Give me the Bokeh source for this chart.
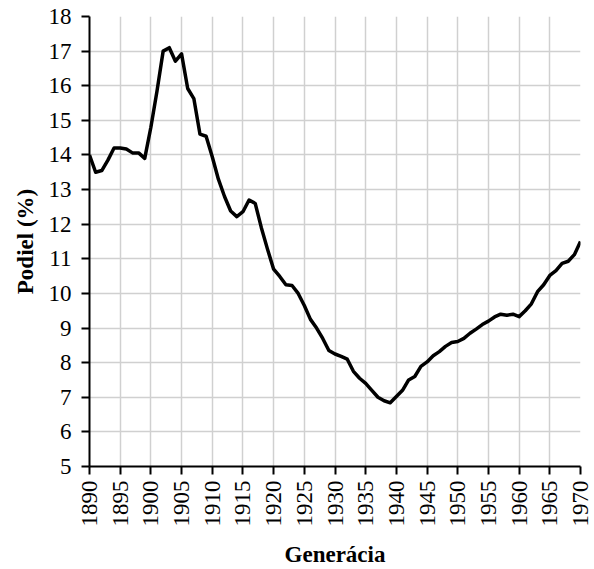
import math
from bokeh.plotting import figure
from bokeh.models import ColumnDataSource, Range1d, FixedTicker
from bokeh.embed import file_html
from bokeh.resources import INLINE

years = list(range(1890, 1971))
share = [
    14.0, 13.5, 13.55, 13.85, 14.2, 14.2, 14.17, 14.06, 14.06, 13.9,   # 1890-1899
    14.8, 15.85, 17.0, 17.1, 16.71, 16.92, 15.92, 15.63, 14.6, 14.54,  # 1900-1909
    13.95, 13.3, 12.8, 12.38, 12.22, 12.36, 12.7, 12.6, 11.9, 11.28,   # 1910-1919
    10.7, 10.49, 10.25, 10.23, 10.0, 9.65, 9.25, 9.0, 8.7, 8.35,        # 1920-1929
    8.25, 8.18, 8.1, 7.75, 7.55, 7.4, 7.2, 7.0, 6.9, 6.84,              # 1930-1939
    7.02, 7.2, 7.5, 7.6, 7.89, 8.02, 8.2, 8.32, 8.47, 8.58,             # 1940-1949
    8.61, 8.7, 8.85, 8.97, 9.1, 9.2, 9.32, 9.4, 9.37, 9.4,              # 1950-1959
    9.33, 9.5, 9.7, 10.05, 10.25, 10.52, 10.66, 10.87, 10.93, 11.12,    # 1960-1969
    11.5,                                                               # 1970
]
x_ticks = list(range(1890, 1971, 5))
y_ticks = list(range(5, 19))
x_title = "Generácia"
y_title = "Podiel (%)"

FONT = "Liberation Serif"
FS = "23px"

p = figure(width=594, height=569, output_backend="svg", toolbar_location=None,
           x_range=Range1d(1890, 1970), y_range=Range1d(5, 18),
           min_border_left=89, min_border_right=14, min_border_top=16, min_border_bottom=102)
p.outline_line_color = None
p.background_fill_color = "white"
p.border_fill_color = "white"

src = ColumnDataSource(dict(x=years, y=share))
p.line("x", "y", source=src, line_color="black", line_width=3.5, line_join="round")

for ax in (p.xaxis[0], p.yaxis[0]):
    ax.axis_line_color = "black"
    ax.axis_line_width = 2
    ax.major_tick_line_color = "black"
    ax.major_tick_line_width = 2
    ax.major_tick_out = 8
    ax.major_tick_in = 0
    ax.minor_tick_line_color = None
    ax.major_label_text_font = FONT
    ax.major_label_text_font_size = FS
    ax.major_label_text_color = "black"
    ax.axis_label_text_font = FONT
    ax.axis_label_text_font_size = FS
    ax.axis_label_text_font_style = "bold"
    ax.axis_label_text_color = "black"

p.xaxis.ticker = FixedTicker(ticks=x_ticks)
p.yaxis.ticker = FixedTicker(ticks=y_ticks)
p.xaxis.major_label_orientation = math.pi / 2
p.xaxis.major_label_standoff = 6
p.yaxis.major_label_standoff = 10
p.xaxis.axis_label = x_title
p.yaxis.axis_label = y_title
p.xaxis.axis_label_standoff = 12
p.yaxis.axis_label_standoff = 8

p.xgrid.ticker = FixedTicker(ticks=x_ticks)
p.ygrid.ticker = FixedTicker(ticks=y_ticks)
for g in (p.xgrid[0], p.ygrid[0]):
    g.grid_line_color = "#d0d0d0"
    g.grid_line_width = 1.5

open("out.html", "w").write(file_html(p, INLINE))
